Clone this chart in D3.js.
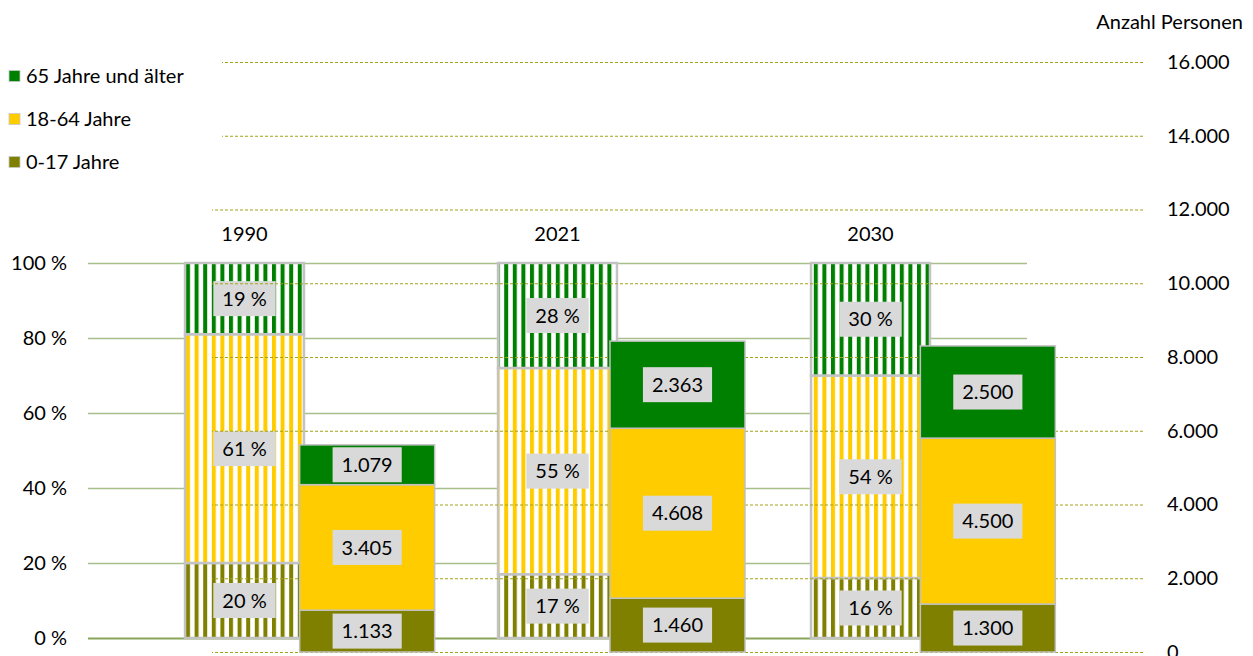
<!DOCTYPE html>
<html lang="de">
<head>
<meta charset="utf-8">
<script src="https://cdn.jsdelivr.net/npm/d3@7"></script>
<style>
  html, body { margin: 0; padding: 0; background: #fff; }
  svg { display: block; font-family: Lato, "Open Sans", sans-serif; }
  text { fill: #000; }
</style>
</head>
<body>
<svg id="chart" width="1253" height="656"></svg>
<script>
// Years shown
const years = ["1990", "2021", "2030"];

// Age groups (bottom to top)
const groupKeys = ["young", "adult", "senior"];
const groupNames = ["0-17 Jahre", "18-64 Jahre", "65 Jahre und älter"];
const groupColors = ["#808000", "#ffcc00", "#008000"];

// Shares in percent per year
const share0_17  = [20, 17, 16];
const share18_64 = [61, 55, 54];
const share65    = [19, 28, 30];

// Number of persons per year
const count0_17  = [1133, 1460, 1300];
const count18_64 = [3405, 4608, 4500];
const count65    = [1079, 2363, 2500];

// Axis ticks
const pctTicks = [0, 20, 40, 60, 80, 100];
const countTicks = [0, 2000, 4000, 6000, 8000, 10000, 12000, 14000, 16000];

const de = d3.formatLocale({ decimal: ",", thousands: ".", grouping: [3], currency: ["", " €"] });
const fmtCount = de.format(",d");

const svg = d3.select("#chart");
const FONT = 20;

const pctRows = years.map((y, i) => ({ year: y, young: share0_17[i], adult: share18_64[i], senior: share65[i] }));
const cntRows = years.map((y, i) => ({ year: y, young: count0_17[i], adult: count18_64[i], senior: count65[i] }));

// Scales
const xPct = d3.scaleBand().domain(years).range([88, 1027]).padding(0);
const yPct = d3.scaleLinear().domain([0, 100]).range([638, 263]);
const xCnt = d3.scaleBand().domain(years).range([212, 1143]).padding(0);
const yCnt = d3.scaleLinear().domain([0, 16000]).range([652, 62]);

const pctBarW = xPct.bandwidth() * 0.38;
const cntBarW = xCnt.bandwidth() * 0.435;

// Stripe patterns for the share bars
const defs = svg.append("defs");
groupKeys.forEach((k, i) => {
  const p = defs.append("pattern")
    .attr("id", "stripe-" + k)
    .attr("patternUnits", "userSpaceOnUse")
    .attr("x", 186).attr("y", 0)
    .attr("width", 8.6).attr("height", 10);
  p.append("rect").attr("width", 8.6).attr("height", 10).attr("fill", "#fff");
  p.append("rect").attr("width", 4).attr("height", 10).attr("fill", groupColors[i]);
});

function labelBox(g, x, y, txt) {
  const t = g.append("text")
    .attr("x", x).attr("y", y)
    .attr("text-anchor", "middle")
    .attr("dy", "0.36em")
    .style("font-size", FONT + "px")
    .text(txt);
  const w = t.node().getComputedTextLength() + 18;
  g.insert("rect", () => t.node())
    .attr("x", x - w / 2).attr("y", y - 17.5)
    .attr("width", w).attr("height", 35)
    .attr("fill", "#d9d9d9");
}

// ---- Share chart (left axis) ----
const pctAxis = svg.append("g")
  .attr("transform", "translate(88,0)")
  .call(d3.axisLeft(yPct).tickValues(pctTicks)
    .tickSize(-(1027 - 88)).tickPadding(21)
    .tickFormat(d => d + " %"));
pctAxis.select(".domain").remove();
pctAxis.selectAll(".tick line")
  .attr("stroke", d => d === 0 ? "#88a55a" : "#a9bf8a")
  .attr("stroke-width", d => d === 0 ? 2 : 1.5);
pctAxis.selectAll(".tick text")
  .style("font-size", FONT + "px").style("font-family", "Lato, sans-serif").attr("fill", "#000");

const pctStack = d3.stack().keys(groupKeys)(pctRows);
const pctG = svg.append("g");
pctStack.forEach((layer, li) => {
  pctG.selectAll(null).data(layer).join("rect")
    .attr("x", d => xPct(d.data.year) + (xPct.bandwidth() - pctBarW) / 2)
    .attr("y", d => yPct(d[1]))
    .attr("width", pctBarW)
    .attr("height", d => yPct(d[0]) - yPct(d[1]))
    .attr("fill", "url(#stripe-" + groupKeys[li] + ")")
    .attr("stroke", "#c3c3c3")
    .attr("stroke-width", 2.5);
});
pctStack.forEach(layer => {
  layer.forEach(d => {
    const cx = xPct(d.data.year) + xPct.bandwidth() / 2;
    const cy = (yPct(d[0]) + yPct(d[1])) / 2;
    labelBox(pctG.append("g"), cx, cy, (d[1] - d[0]) + " %");
  });
});

// Year labels above the share bars
svg.append("g").selectAll("text").data(years).join("text")
  .attr("x", d => xPct(d) + xPct.bandwidth() / 2)
  .attr("y", 234)
  .attr("dy", "0.36em")
  .attr("text-anchor", "middle")
  .style("font-size", FONT + "px")
  .text(d => d);

// ---- Persons chart (right axis) ----
const cntAxis = svg.append("g")
  .attr("transform", "translate(1143,0)")
  .call(d3.axisRight(yCnt).tickValues(countTicks)
    .tickSize(-(1143 - 212)).tickPadding(24)
    .tickFormat(fmtCount));
cntAxis.select(".domain").remove();
cntAxis.selectAll(".tick line")
  .attr("x2", d => d >= 14000 ? -(1143 - 222) : -(1143 - 212))
  .attr("stroke", "#a3a31a")
  .attr("stroke-width", 1)
  .attr("stroke-dasharray", "3,2");
cntAxis.selectAll(".tick text")
  .attr("x", 24)
  .style("font-size", FONT + "px").style("font-family", "Lato, sans-serif").attr("fill", "#000");

svg.append("text")
  .attr("x", 1243).attr("y", 22).attr("dy", "0.36em")
  .attr("text-anchor", "end")
  .style("font-size", FONT + "px")
  .text("Anzahl Personen");

const cntStack = d3.stack().keys(groupKeys)(cntRows);
const cntG = svg.append("g");
cntStack.forEach((layer, li) => {
  cntG.selectAll(null).data(layer).join("rect")
    .attr("x", d => xCnt(d.data.year) + (xCnt.bandwidth() - cntBarW) / 2)
    .attr("y", d => yCnt(d[1]))
    .attr("width", cntBarW)
    .attr("height", d => yCnt(d[0]) - yCnt(d[1]))
    .attr("fill", groupColors[li])
    .attr("stroke", "#c0c0c0")
    .attr("stroke-width", 1.5);
});
cntStack.forEach(layer => {
  layer.forEach(d => {
    const cx = xCnt(d.data.year) + xCnt.bandwidth() / 2;
    const cy = (yCnt(d[0]) + yCnt(d[1])) / 2;
    labelBox(cntG.append("g"), cx, cy, fmtCount(d[1] - d[0]));
  });
});

// ---- Legend ----
const legendY = [162, 119, 76];
const legend = svg.append("g");
groupKeys.forEach((k, i) => {
  legend.append("rect")
    .attr("x", 9).attr("y", legendY[i] - 5.5)
    .attr("width", 11).attr("height", 11)
    .attr("fill", groupColors[i])
    .attr("stroke", "#c8c8c8").attr("stroke-width", 0.8);
  legend.append("text")
    .attr("x", 26).attr("y", legendY[i]).attr("dy", "0.36em")
    .style("font-size", FONT + "px")
    .text(groupNames[i]);
});
</script>
</body>
</html>
